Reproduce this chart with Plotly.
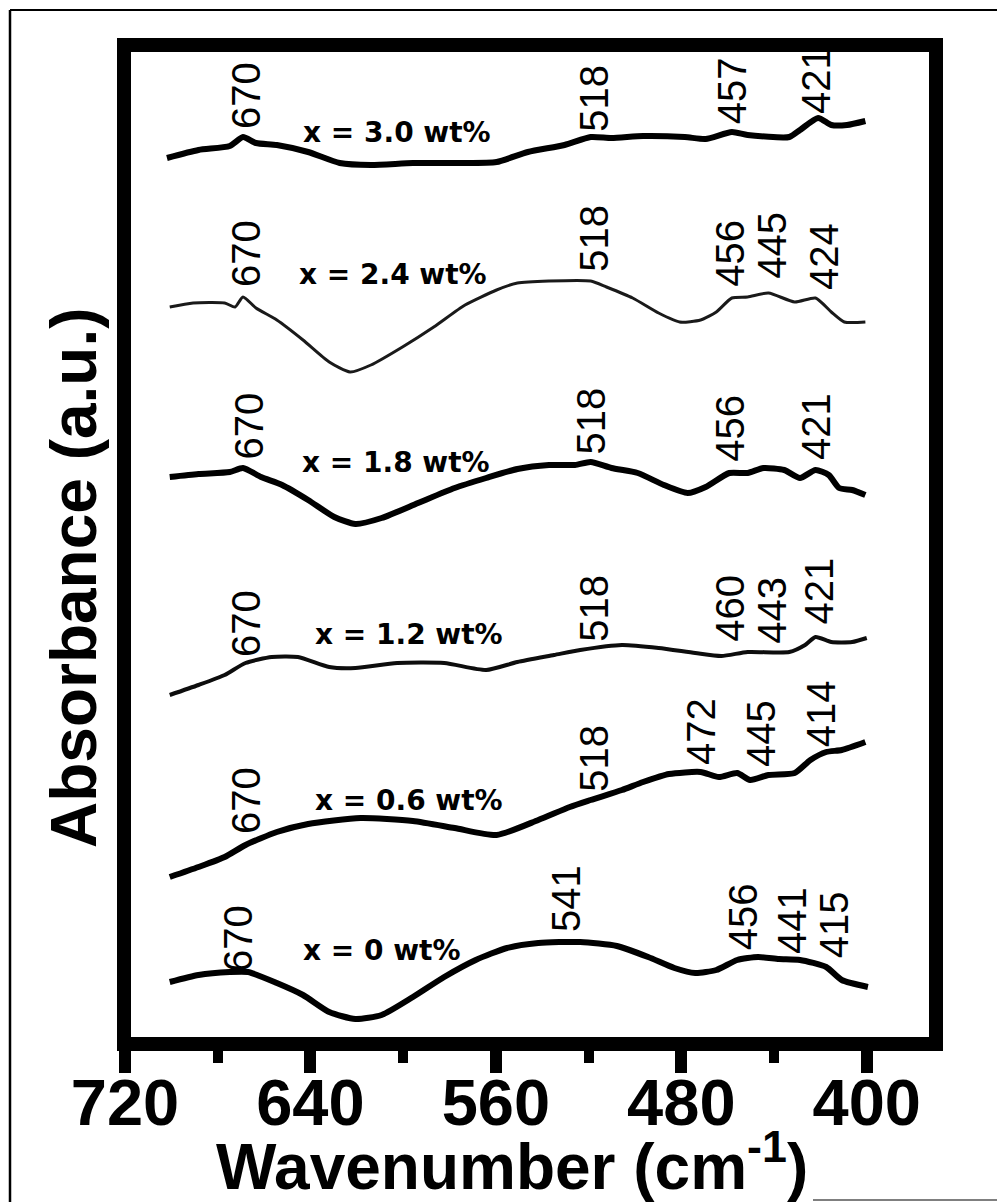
import plotly.graph_objects as go

# ---------------- data ----------------
wn_30 = [701.9, 688.3, 674.8, 669.1, 663.5, 654.5, 641.0, 627.4, 613.9, 595.8, 575.5, 559.7, 546.2,
         530.4, 519.1, 510.1, 496.5, 478.5, 469.5, 458.2, 451.4, 433.4, 428.8, 421.0, 415.3, 408.5, 400.6]
ab_30 = [8.86, 8.94, 8.98, 9.07, 9.01, 8.99, 8.92, 8.81, 8.79, 8.81, 8.81, 8.82, 8.92,
         8.99, 9.07, 9.06, 9.08, 9.07, 9.05, 9.12, 9.09, 9.07, 9.14, 9.26, 9.19, 9.19, 9.23]

wn_24 = [700.7, 690.6, 677.0, 672.5, 669.1, 663.5, 654.5, 643.2, 631.9, 622.9, 613.9, 600.3, 586.8,
         573.3, 559.7, 550.7, 537.1, 519.1, 512.3, 501.0, 489.8, 480.7, 471.7, 464.9, 458.2, 451.4,
         442.4, 431.1, 422.1, 415.3, 409.7, 400.6]
ab_24 = [7.37, 7.41, 7.41, 7.37, 7.47, 7.36, 7.24, 7.04, 6.82, 6.72, 6.79, 6.97, 7.17,
         7.39, 7.54, 7.61, 7.63, 7.63, 7.57, 7.46, 7.31, 7.22, 7.24, 7.32, 7.46, 7.47,
         7.51, 7.42, 7.46, 7.32, 7.22, 7.22]

wn_18 = [700.7, 688.3, 674.8, 669.1, 661.3, 652.2, 641.0, 629.7, 620.6, 609.3, 593.6, 577.8, 564.2,
         550.7, 537.1, 525.9, 519.1, 510.1, 498.8, 487.5, 477.3, 469.5, 459.3, 451.4, 444.6, 435.6,
         428.8, 422.1, 416.4, 411.9, 406.3, 400.6]
ab_18 = [5.67, 5.70, 5.72, 5.76, 5.67, 5.59, 5.44, 5.27, 5.20, 5.26, 5.41, 5.56, 5.66,
         5.75, 5.79, 5.79, 5.82, 5.76, 5.71, 5.59, 5.51, 5.57, 5.71, 5.71, 5.76, 5.74,
         5.66, 5.74, 5.69, 5.56, 5.54, 5.49]

wn_12 = [700.7, 688.3, 677.0, 668.0, 656.7, 645.4, 631.9, 620.6, 602.6, 582.3, 564.2, 550.7, 534.9,
         523.6, 505.6, 489.8, 474.0, 462.7, 451.4, 433.4, 426.6, 422.1, 415.3, 406.3, 400.0]
ab_12 = [3.49, 3.59, 3.69, 3.81, 3.87, 3.87, 3.77, 3.76, 3.81, 3.81, 3.74, 3.82, 3.89,
         3.94, 3.99, 3.96, 3.91, 3.88, 3.92, 3.92, 3.99, 4.07, 4.02, 4.02, 4.06]

wn_06 = [700.7, 688.3, 677.0, 668.0, 654.5, 641.0, 618.4, 595.8, 577.8, 559.7, 541.7, 528.1, 519.1,
         505.6, 496.5, 485.3, 471.7, 463.8, 455.9, 450.3, 442.4, 431.1, 424.3, 417.5, 410.8, 400.6]
ab_06 = [1.67, 1.77, 1.87, 1.99, 2.12, 2.20, 2.26, 2.23, 2.16, 2.09, 2.24, 2.37, 2.44,
         2.54, 2.62, 2.70, 2.72, 2.67, 2.71, 2.64, 2.69, 2.71, 2.84, 2.92, 2.94, 3.02]

wn_00 = [700.7, 688.3, 674.8, 666.9, 654.5, 643.2, 631.9, 620.6, 609.3, 595.8, 582.3, 568.7, 555.2,
         541.7, 523.6, 507.8, 494.3, 483.0, 474.0, 464.9, 455.9, 446.9, 437.9, 428.8, 417.5, 410.8, 399.5]
ab_00 = [0.62, 0.69, 0.72, 0.72, 0.61, 0.49, 0.32, 0.25, 0.29, 0.47, 0.67, 0.84, 0.96,
         1.01, 1.02, 0.98, 0.87, 0.76, 0.71, 0.74, 0.84, 0.87, 0.85, 0.84, 0.77, 0.64, 0.57]

series_names = ["x = 3.0 wt%", "x = 2.4 wt%", "x = 1.8 wt%", "x = 1.2 wt%", "x = 0.6 wt%", "x = 0 wt%"]
series_wn = [wn_30, wn_24, wn_18, wn_12, wn_06, wn_00]
series_ab = [ab_30, ab_24, ab_18, ab_12, ab_06, ab_00]

# peak labels for each spectrum
peak_labels = [
    ["670", "518", "457", "421"],
    ["670", "518", "456", "445", "424"],
    ["670", "518", "456", "421"],
    ["670", "518", "460", "443", "421"],
    ["670", "518", "472", "445", "414"],
    ["670", "541", "456", "441", "415"],
]

x_tick_vals = [720, 640, 560, 480, 400]
x_minor_vals = [680, 600, 520, 440]
x_title = "Wavenumber (cm<sup>-1</sup>)"
y_title = "Absorbance (a.u.)"

# ---------------- placement / style ----------------
# label anchor positions (wavenumber, absorbance) for the peak labels
peak_xy = [
    [(668.0, 9.485), (518.0, 9.455), (458.2, 9.535), (422.1, 9.635)],
    [(668.0, 7.905), (518.0, 8.055), (459.3, 7.905), (441.2, 7.985), (418.7, 7.875)],
    [(666.9, 6.175), (519.0, 6.235), (459.3, 6.155), (422.1, 6.175)],
    [(668.0, 4.205), (518.0, 4.355), (459.3, 4.355), (441.2, 4.335), (421.0, 4.525)],
    [(668.0, 2.435), (518.0, 2.855), (471.7, 3.125), (445.8, 3.105), (419.8, 3.305)],
    [(671.5, 1.055), (530.0, 1.455), (453.5, 1.275), (432.5, 1.235), (414.0, 1.19)],
]
name_xy = [(602.8, 9.12), (604.4, 7.70), (603.3, 5.82), (597.6, 4.10), (597.6, 2.44), (609.3, 0.94)]
line_widths = [6, 3, 6, 4, 6, 6]
line_colors = ["#000000", "#1a1a1a", "#000000", "#0d0d0d", "#000000", "#000000"]

W, H = 997, 1202
L, R, T, B = 124, 61, 45, 158
PW, PH = W - L - R, H - T - B


def px(xp):
    return (xp - L) / PW


def py(yp):
    return (H - B - yp) / PH


fig = go.Figure()
for name, xs, ys, lw, lc in zip(series_names, series_wn, series_ab, line_widths, line_colors):
    fig.add_trace(go.Scatter(x=xs, y=ys, mode="lines", name=name,
                             line=dict(color=lc, width=lw, shape="spline", smoothing=0.6),
                             showlegend=False, hoverinfo="skip"))

ann = []
for labels, xy in zip(peak_labels, peak_xy):
    for lab, (xv, yv) in zip(labels, xy):
        ann.append(dict(x=xv, y=yv, xref="x", yref="y", text=lab, showarrow=False,
                        textangle=-90, xanchor="center", yanchor="middle",
                        font=dict(family="Liberation Sans, Arial", size=40, color="black")))
for name, (xv, yv) in zip(series_names, name_xy):
    ann.append(dict(x=xv, y=yv, xref="x", yref="y", text=name, showarrow=False,
                    xanchor="center", yanchor="middle",
                    font=dict(family="DejaVu Sans", size=28, color="black", weight="bold")))

ann.append(dict(x=px(511.5), y=py(1162), xref="paper", yref="paper", text=x_title,
                showarrow=False, xanchor="center", yanchor="middle",
                font=dict(family="Liberation Sans, Arial", size=64, color="black", weight="bold")))
ann.append(dict(x=px(74), y=py(578), xref="paper", yref="paper", text=y_title,
                showarrow=False, textangle=-90, xanchor="center", yanchor="middle",
                font=dict(family="Liberation Sans, Arial", size=64, color="black", weight="bold")))

shapes = [
    dict(type="rect", xref="paper", yref="paper", x0=0, y0=0, x1=1, y1=1,
         line=dict(color="black", width=14), layer="above"),
    # thin outer frame of the picture
    dict(type="line", xref="paper", yref="paper", x0=px(10), y0=py(10), x1=px(997), y1=py(10),
         line=dict(color="black", width=2)),
    dict(type="line", xref="paper", yref="paper", x0=px(10), y0=py(10), x1=px(10), y1=py(1202),
         line=dict(color="black", width=2.5)),
    dict(type="line", xref="paper", yref="paper", x0=px(813), y0=py(1200), x1=px(997), y1=py(1200),
         line=dict(color="#555555", width=1.5)),
]

x0v = 720 + 1 / 2.318
x1v = x0v - PW / 2.318

fig.update_layout(
    width=W, height=H,
    margin=dict(l=L, r=R, t=T, b=B),
    paper_bgcolor="white", plot_bgcolor="white",
    annotations=ann, shapes=shapes,
    xaxis=dict(range=[x0v, x1v], showgrid=False, zeroline=False, showline=False,
               tickvals=x_tick_vals, ticks="outside", ticklen=28, tickwidth=12, tickcolor="black",
               ticklabelstandoff=-26,
               tickfont=dict(family="Liberation Sans, Arial", size=65, color="black", weight="bold"),
               minor=dict(tickvals=x_minor_vals, ticks="outside", ticklen=18, tickwidth=10,
                          tickcolor="black", showgrid=False)),
    yaxis=dict(range=[0, PH / 100], showgrid=False, zeroline=False, showline=False,
               showticklabels=False, ticks=""),
)

fig.write_html("out.html")
